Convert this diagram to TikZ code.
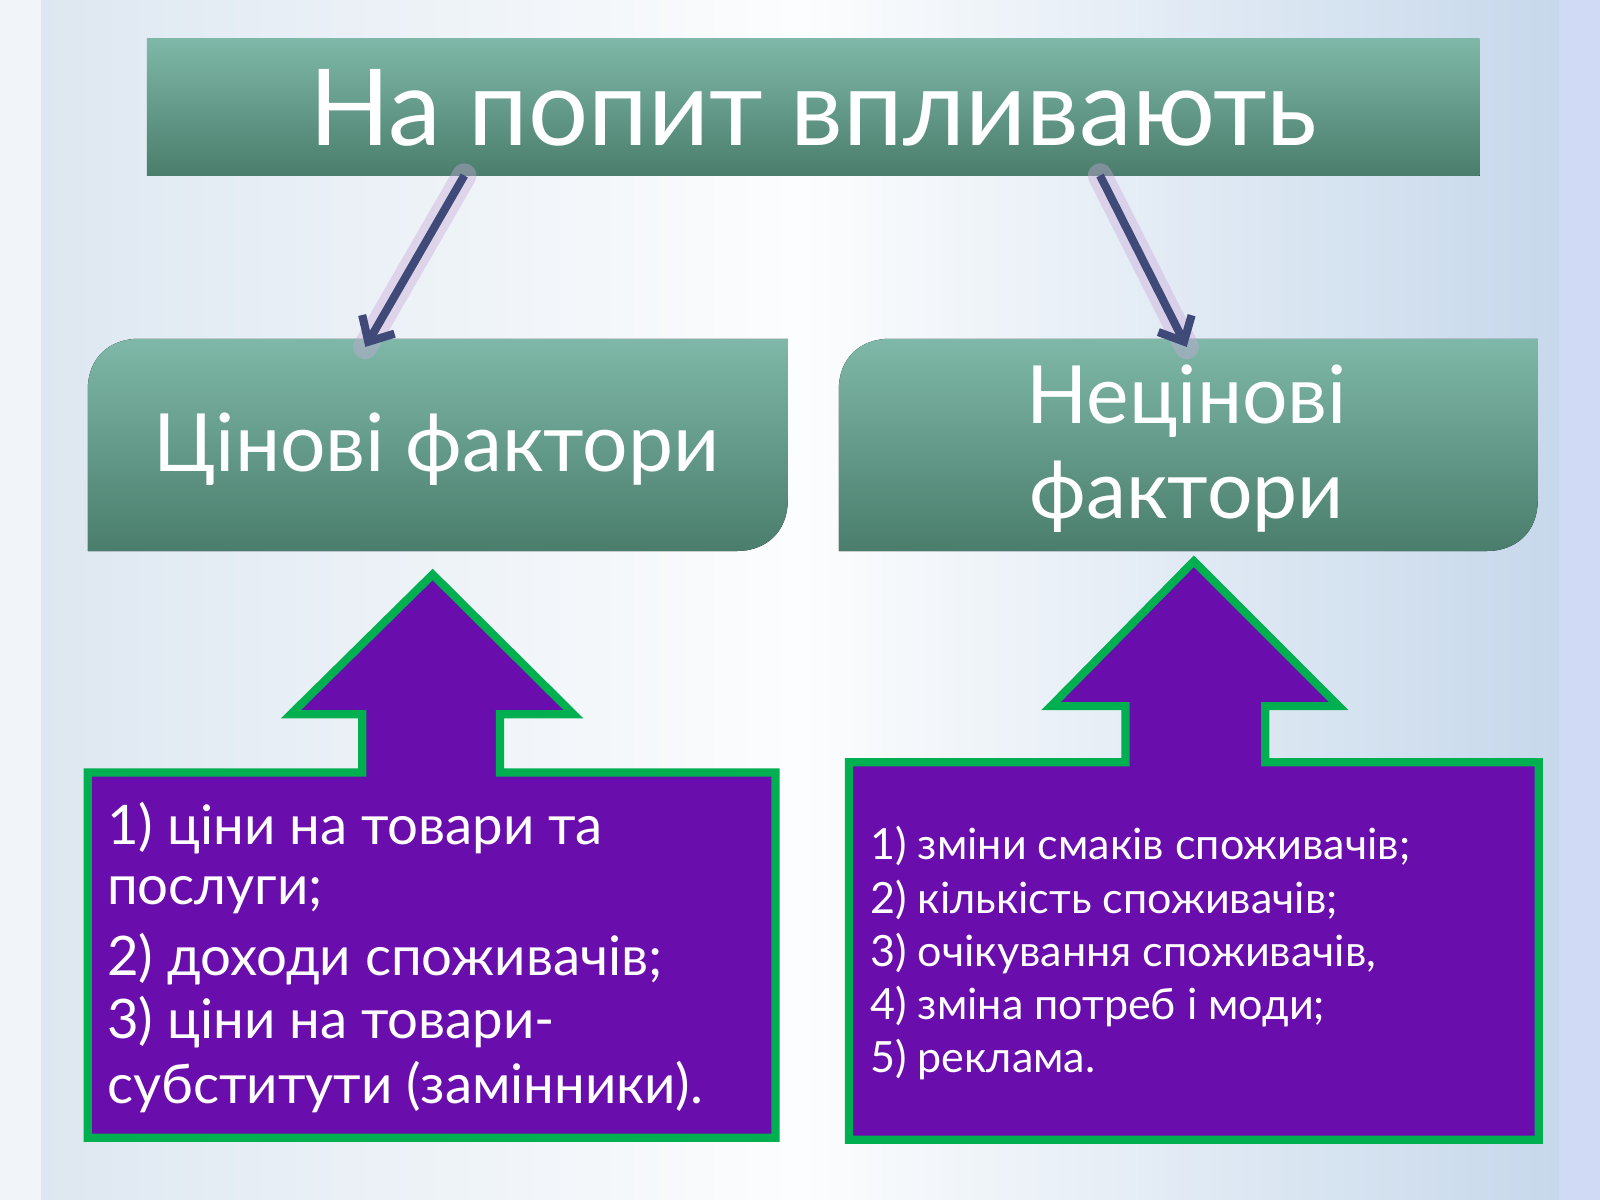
\documentclass[tikz,border=0pt]{standalone}
\usepackage{fontspec}
\setmainfont{Lato}
\usetikzlibrary{arrows.meta}
\definecolor{tealT}{HTML}{7FB8A8}
\definecolor{tealB}{HTML}{4A7D6C}
\definecolor{arr}{HTML}{3F4A78}
\definecolor{glow}{HTML}{C9A8D8}
\definecolor{purp}{HTML}{6A0DAD}
\definecolor{grn}{HTML}{00B050}
\definecolor{bgl}{HTML}{DCE6F0}
\definecolor{bgr}{HTML}{C4D6EA}
\tikzset{
  hdr/.style={top color=tealT,bottom color=tealB,draw=none},
  upbox/.style={fill=purp,draw=grn,line width=8*0.025cm,line join=miter},
  conn/.style={draw=arr,line width=8*0.025cm,-{Straight Barb[length=14pt,width=26pt,line width=8*0.025cm]}},
  connglow/.style={draw=glow,line width=24*0.025cm,opacity=0.4,line cap=round},
  htxt/.style={text=white,align=center,font=\fontsize{56}{66}\selectfont},
  ltxt/.style={text=white,anchor=west,font=\fontsize{38}{44}\selectfont},
  rtxt/.style={text=white,anchor=west,font=\fontsize{30}{36}\selectfont}
}
\begin{document}
\begin{tikzpicture}[x=0.025cm,y=-0.025cm]
\useasboundingbox (0,0) rectangle (1568,1176);
\shade[left color=bgl,right color=bgr,middle color=white!92!bgl] (0,0) rectangle (1568,1176);
\fill[white!60!bgl] (0,0) rectangle (40,1176);
\fill[bgr!90!blue!60!white] (1528,0) rectangle (1568,1176);
% title
\fill[hdr] (144,38) rectangle (1450,172);
\node[htxt,font=\fontsize{74}{84}\selectfont] (title) at (797,106) {На попит впливають};
% boxes
\fill[hdr] (86,540) -- (86,382) .. controls (86,350) and (108,332) .. (136,332) -- (772,332) -- (772,490) .. controls (772,522) and (750,540) .. (722,540) -- cycle;
\node[htxt] (price) at (428,440) {Цінові фактори};
\fill[hdr] (822,540) -- (822,382) .. controls (822,350) and (844,332) .. (872,332) -- (1507,332) -- (1507,490) .. controls (1507,522) and (1485,540) .. (1457,540) -- cycle;
\node[htxt] (nonprice) at (1163,440) {Нецінові\\фактори};
\coordinate (a1s) at (455,172); \coordinate (a1e) at (358,340);
\coordinate (a2s) at (1078,172); \coordinate (a2e) at (1163,340);
\draw[connglow] (a1s) -- (a1e);
\draw[connglow] (a2s) -- (a2e);
\draw[conn] (a1s) -- (a1e);
\draw[conn] (a2s) -- (a2e);
% up arrows
\draw[upbox] (86,757) -- (355,757) -- (355,700) -- (285,700) -- (424,563) -- (562,700) -- (490,700) -- (490,757) -- (760,757) -- (760,1115) -- (86,1115) -- cycle;
\draw[upbox] (832,747) -- (1103,747) -- (1103,692) -- (1030,692) -- (1170,550) -- (1312,692) -- (1240,692) -- (1240,747) -- (1508,747) -- (1508,1117) -- (832,1117) -- cycle;
\node[ltxt] (l1) at (100,812) {1) ціни на товари та};
\node[ltxt] (l2) at (100,877) {послуги;};
\node[ltxt] (l3) at (100,940) {2) доходи споживачів;};
\node[ltxt] (l4) at (100,1002) {3) ціни на товари-};
\node[ltxt] (l5) at (100,1065) {субститути (замінники).};
\node[rtxt] (r1) at (848,829) {1) зміни смаків споживачів;};
\node[rtxt] (r2) at (848,882) {2) кількість споживачів;};
\node[rtxt] (r3) at (848,934) {3) очікування споживачів,};
\node[rtxt] (r4) at (848,986) {4) зміна потреб і моди;};
\node[rtxt] (r5) at (848,1038) {5) реклама.};
\end{tikzpicture}
\end{document}
